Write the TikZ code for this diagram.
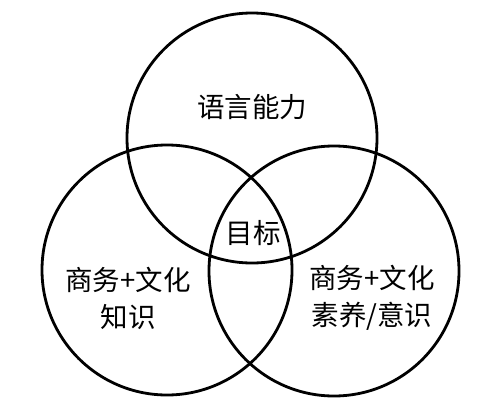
\documentclass[tikz,border=0pt]{standalone}
\usepackage{fontspec}
\newfontfamily\cjk{Noto Sans CJK SC}
\usepackage{tikz}
\usetikzlibrary{positioning, shapes, calc}
\tikzset{every path/.style={line cap=round, line join=round}}

\begin{document}
\begin{tikzpicture}[
    x=1pt, y=-1pt,
    ring/.style={
        draw,
        circle,
        line width=2.8pt,
        minimum size=250pt,
        inner sep=0pt
    },
    tag/.style={
        align=center,
        inner sep=0pt,
        font=\cjk\fontsize{27.5}{37}\selectfont
    }
]
\useasboundingbox (0,0) rectangle (500,407);

\node[ring] (lang) at (252,138) {};
\node[ring] (know) at (167,270) {};
\node[ring] (lit) at (334,271) {};

\node[tag] (langtxt) at (252,107) {语言能力};
\node[tag] (goal) at (253,233) {目标};
\node[tag] (knowtxt) at (128,298) {商务+文化\\知识};
\node[tag] (littxt) at (372,298) {商务+文化\\素养/意识};

\end{tikzpicture}
\end{document}
